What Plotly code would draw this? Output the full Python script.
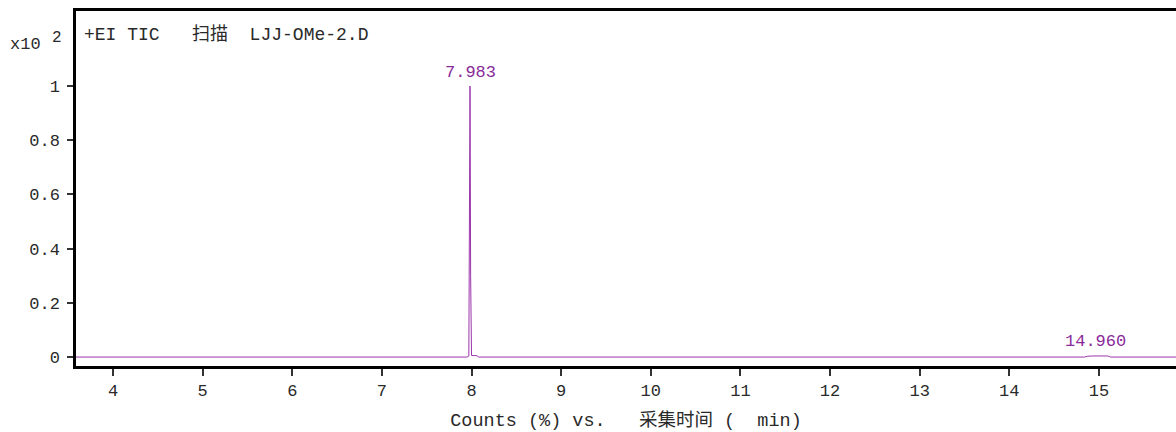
import plotly.graph_objects as go

# Chromatogram data (retention time in min, counts x10^2)
times = [3.587, 7.95, 7.970, 7.976, 7.980, 7.983, 7.986, 7.990, 7.996, 8.000, 8.060, 8.080,
         14.84, 14.87, 14.93, 14.96, 14.99, 15.10, 15.13, 15.86]
counts = [0.0, 0.0, 0.004, 0.35, 0.80, 1.0, 0.75, 0.30, 0.02, 0.006, 0.005, 0.0,
          0.0, 0.003, 0.004, 0.005, 0.004, 0.004, 0.0, 0.0]

peak_times = [7.983, 14.960]
peak_labels = ["7.983", "14.960"]
peak_heights = [1.0, 0.005]

x_ticks = [4, 5, 6, 7, 8, 9, 10, 11, 12, 13, 14, 15]
y_ticks = [0, 0.2, 0.4, 0.6, 0.8, 1]
y_tick_text = ["0", "0.2", "0.4", "0.6", "0.8", "1"]

title_text = "+EI TIC   扫描  LJJ-OMe-2.D"
x_title = "Counts (%) vs.   采集时间 (  min)"

FONT = "Liberation Mono, Noto Sans CJK SC, monospace"
PURPLE = "#9b35ab"
TXT = "#2a2a2a"

fig = go.Figure()
fig.add_trace(go.Scatter(x=times, y=counts, mode="lines",
                         line=dict(color=PURPLE, width=1), hoverinfo="skip",
                         showlegend=False))

for t, lab, h in zip(peak_times, peak_labels, peak_heights):
    fig.add_annotation(x=t, y=h, text=lab, showarrow=False, yshift=14,
                       font=dict(family=FONT, size=17, color="#8a2a9a"))

fig.add_annotation(xref="paper", yref="paper", x=0.005, y=0.935, xanchor="left", yanchor="middle",
                   text=title_text, showarrow=False,
                   font=dict(family=FONT, size=18, color=TXT))
fig.add_annotation(xref="paper", yref="paper", x=0.0, y=0.907, xanchor="right", yanchor="middle",
                   xshift=-33, text="x10", showarrow=False,
                   font=dict(family=FONT, size=17, color=TXT))
fig.add_annotation(xref="paper", yref="paper", x=0.0, y=0.924, xanchor="right", yanchor="middle",
                   xshift=-12, text="2", showarrow=False,
                   font=dict(family=FONT, size=16, color=TXT))

fig.update_layout(
    width=1176, height=432,
    margin=dict(l=76, r=0, t=11, b=66),
    paper_bgcolor="white", plot_bgcolor="white",
    font=dict(family=FONT, size=17, color=TXT),
    xaxis=dict(range=[3.587, 15.86], tickvals=x_ticks, ticks="outside", ticklen=7,
               tickcolor="#333", tickwidth=1.5, showline=True, linecolor="black",
               linewidth=2.5, mirror=True, showgrid=False, zeroline=False,
               tickfont=dict(family=FONT, size=17, color=TXT),
               title=dict(text=x_title, standoff=14,
                          font=dict(family=FONT, size=18.5, color=TXT))),
    yaxis=dict(range=[-0.033, 1.277], tickvals=y_ticks, ticktext=y_tick_text,
               ticks="outside", ticklen=6, tickcolor="#333", tickwidth=1.5,
               ticklabelstandoff=4,
               showline=True, linecolor="black", linewidth=2.5, showgrid=False,
               zeroline=False, tickfont=dict(family=FONT, size=17, color=TXT)),
)

fig.write_html("out.html")
